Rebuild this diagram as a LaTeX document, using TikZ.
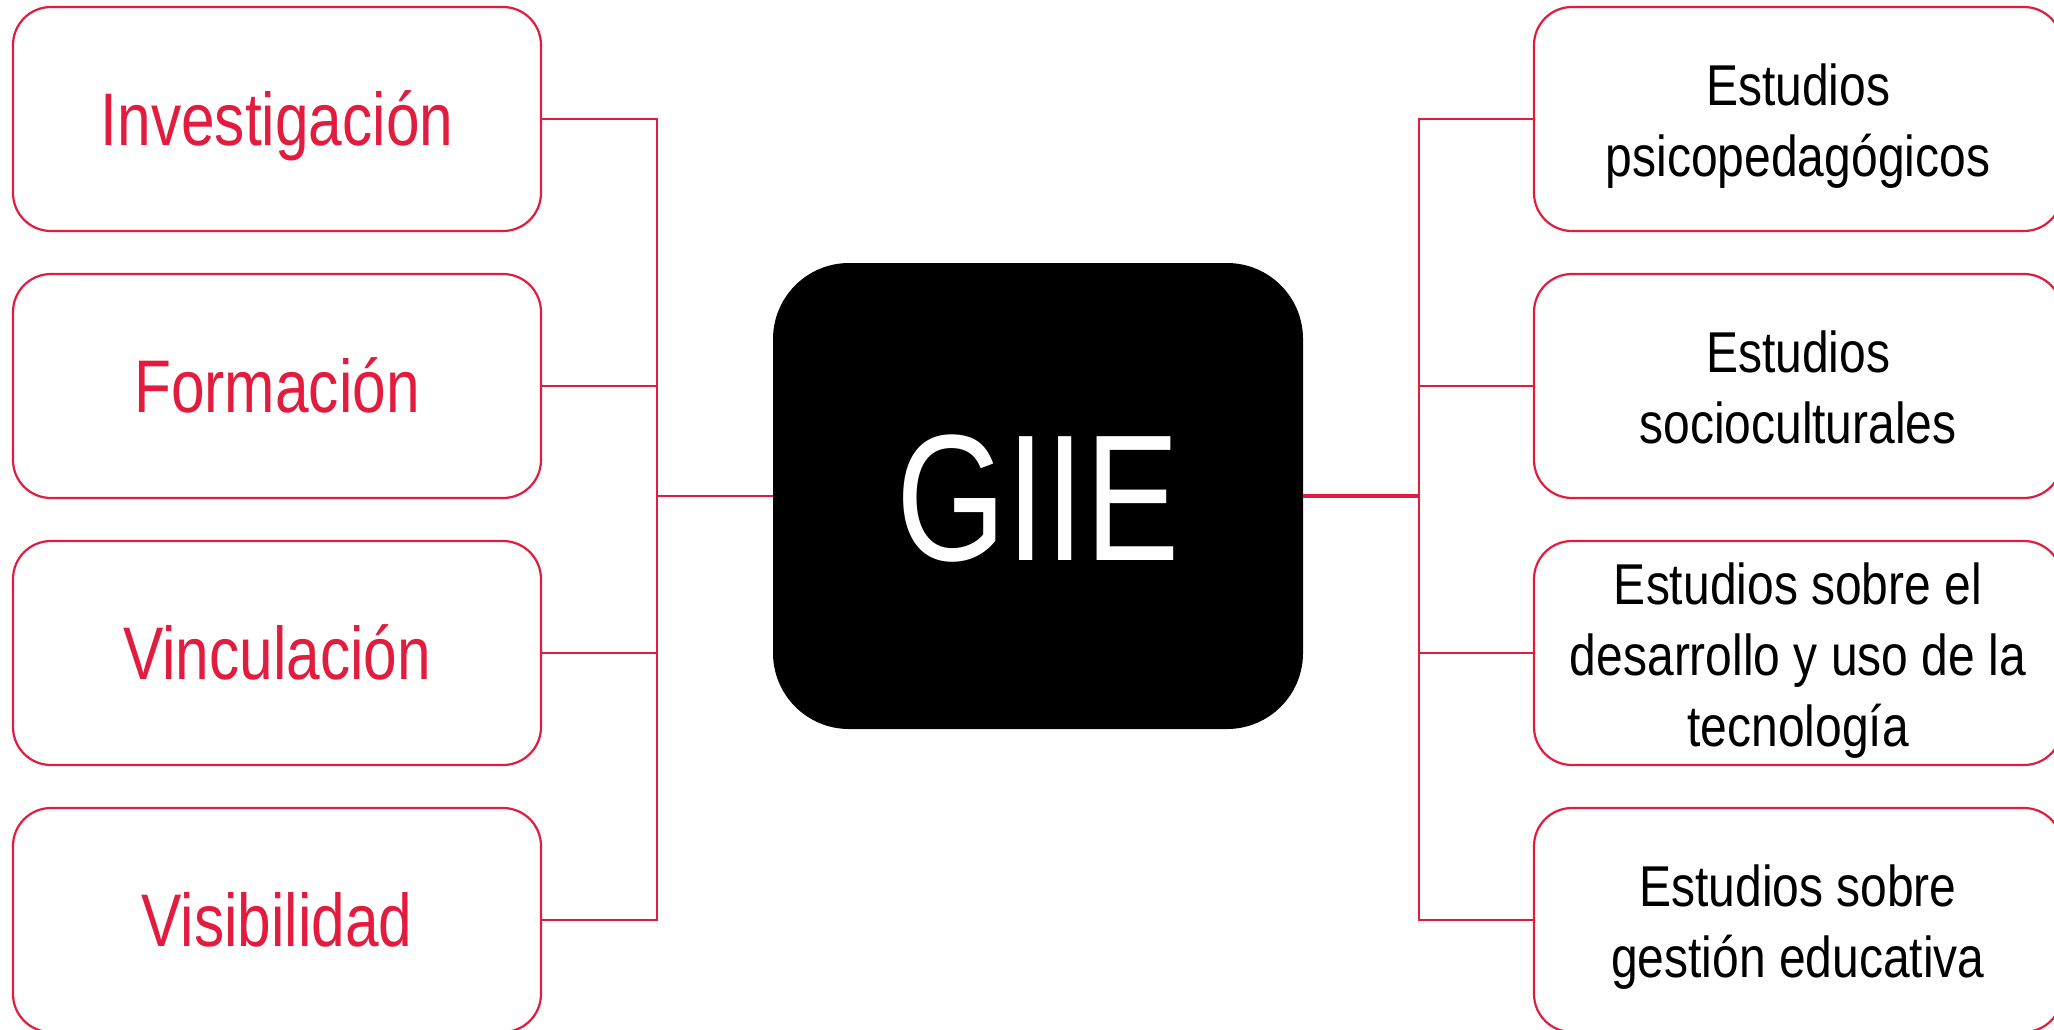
\documentclass[tikz,border=0pt]{standalone}
\usepackage{fontspec}
\setmainfont{Liberation Sans}[FakeStretch=0.81]
\newfontfamily\rfont{Liberation Sans}[FakeStretch=0.833]
\newfontfamily\gfont{Liberation Sans}[FakeStretch=0.785]
\newcommand\rtop{\rule{0pt}{28pt}}
\newcommand\rbot{\rule[-6pt]{0pt}{0pt}}
\definecolor{giired}{RGB}{226,28,62}
\begin{document}
\begin{tikzpicture}[x=0.5pt,y=-0.5pt,
    lbox/.style={draw=giired,line width=1.1pt,rounded corners=19pt,minimum width=264pt,minimum height=112pt,
      text=giired,text height=26.7pt,text depth=0pt,font=\fontsize{37.3pt}{45pt}\selectfont},
    rbox/.style={draw=giired,line width=1.1pt,rounded corners=19pt,minimum width=264pt,minimum height=112pt,
      align=center,font=\rfont\fontsize{28.8pt}{35.5pt}\selectfont},
    link/.style={draw=giired,line width=1pt}]
            \useasboundingbox (0,0) rectangle (2054,1029);
            \node [fill=black,rounded corners=38pt,minimum width=265pt,minimum height=233pt,
              text=white,text height=64.4pt,text depth=0pt,font=\gfont\fontsize{90pt}{100pt}\selectfont] (gi) at (1038,496) {GIIE};
            \node [lbox] (inv) at (277,119) {Investigación};
            \node [lbox] (for) at (277,386) {Formación};
            \node [lbox] (vin) at (277,653) {Vinculación};
            \node [lbox] (vis) at (277,920) {Visibilidad};
            \node [rbox] (psi) at (1798,119) {\rtop Estudios\\psicopedagógicos\rbot};
            \node [rbox] (soc) at (1798,386) {\rtop Estudios\\socioculturales\rbot};
            \node [rbox] (tec) at (1798,653) {\rtop Estudios sobre el\\desarrollo y uso de la\\tecnología\rbot};
            \node [rbox] (ges) at (1798,920) {\rtop Estudios sobre\\gestión educativa\rbot};
            \coordinate (lb) at (657.4,496);
            \coordinate (rb) at (1418.7,496);
            \foreach \n in {inv,for,vin,vis} \draw [link] (\n.east) -| (lb);
            \foreach \n in {psi,soc,tec,ges} \draw [link] (\n.west) -| (rb);
            \draw [link] (lb)--(lb-|gi.west);
            \draw [link,line width=1.8pt] (rb-|gi.east)--(rb);
        \end{tikzpicture}
\end{document}
